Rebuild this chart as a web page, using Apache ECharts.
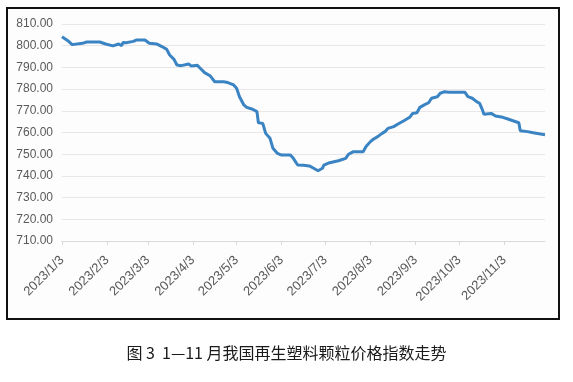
<!DOCTYPE html>
<html>
<head>
<meta charset="utf-8">
<script src="https://cdn.jsdelivr.net/npm/echarts@6/dist/echarts.min.js"></script>
<style>
html,body{margin:0;padding:0;background:#fff;}
#chart{width:573px;height:382px;}
</style>
</head>
<body>
<div id="chart"></div>
<script>
// Axis range (daily category axis)
const startDate = '2023/1/3';
const endDate = '2023/12/1';
const tickLabelDay = 3; // ticks / labels on the 3rd of each month (Jan..Nov)
const yTicks = [710, 720, 730, 740, 750, 760, 770, 780, 790, 800, 810];

// Values
const sampleDates = [
  '2023/1/3','2023/1/7','2023/1/10','2023/1/17','2023/1/20','2023/1/29','2023/2/2','2023/2/7','2023/2/11','2023/2/13',
  '2023/2/14','2023/2/16','2023/2/21','2023/2/23','2023/3/1','2023/3/4','2023/3/9','2023/3/13','2023/3/16','2023/3/18',
  '2023/3/21','2023/3/23','2023/3/26','2023/3/31','2023/4/2','2023/4/6','2023/4/8','2023/4/11','2023/4/15','2023/4/18',
  '2023/4/24','2023/4/27','2023/5/1','2023/5/3','2023/5/5','2023/5/8','2023/5/10','2023/5/14','2023/5/17','2023/5/18',
  '2023/5/21','2023/5/23','2023/5/26','2023/5/28','2023/5/31','2023/6/3','2023/6/9','2023/6/11','2023/6/14','2023/6/18',
  '2023/6/22','2023/6/25','2023/6/28','2023/7/1','2023/7/2','2023/7/6','2023/7/12','2023/7/17','2023/7/19','2023/7/22',
  '2023/7/29','2023/7/31','2023/8/3','2023/8/5','2023/8/8','2023/8/11','2023/8/13','2023/8/15','2023/8/19','2023/8/22',
  '2023/8/26','2023/8/30','2023/9/1','2023/9/4','2023/9/6','2023/9/9','2023/9/12','2023/9/14','2023/9/18','2023/9/20',
  '2023/9/23','2023/9/26','2023/10/7','2023/10/9','2023/10/12','2023/10/15','2023/10/17','2023/10/19','2023/10/20','2023/10/25',
  '2023/10/28','2023/11/2','2023/11/6','2023/11/9','2023/11/13','2023/11/14','2023/11/19','2023/11/23','2023/11/28','2023/12/1'
];
const sampleValues = [
  804.1, 802.3, 800.5, 801.1, 801.7, 801.7, 800.8, 799.9, 800.8, 800.0,
  801.5, 801.4, 802.0, 802.6, 802.6, 801.1, 800.8, 799.5, 798.3, 795.7,
  793.7, 791.1, 790.8, 791.6, 790.6, 791.0, 789.6, 787.6, 786.0, 783.4,
  783.4, 783.0, 781.9, 780.4, 776.5, 772.7, 771.6, 770.7, 769.6, 764.5,
  764.2, 759.6, 757.3, 752.7, 750.4, 749.6, 749.6, 748.1, 745.0, 744.9,
  744.6, 743.5, 742.4, 743.5, 745.0, 746.1, 747.0, 748.1, 750.0, 751.1,
  751.1, 753.5, 755.8, 756.9, 758.1, 759.6, 760.4, 761.9, 762.7, 763.9,
  765.4, 767.0, 768.8, 769.1, 771.6, 772.7, 773.7, 775.8, 776.5, 778.1,
  778.8, 778.5, 778.5, 776.5, 775.8, 774.2, 773.5, 770.4, 768.4, 768.8,
  767.6, 767.0, 766.1, 765.4, 764.5, 760.8, 760.4, 759.9, 759.3, 759.0
];

const caption = '图 3  1—11 月我国再生塑料颗粒价格指数走势';

// Build daily categories
function parseD(s){ const p = s.split('/').map(Number); return new Date(Date.UTC(p[0], p[1]-1, p[2])); }
function fmt(d){ return d.getUTCFullYear() + '/' + (d.getUTCMonth()+1) + '/' + d.getUTCDate(); }
const categories = [];
for (let d = parseD(startDate); d <= parseD(endDate); d = new Date(d.getTime() + 86400000)) categories.push(fmt(d));
const seriesData = categories.map(() => null);
sampleDates.forEach((s, i) => { const idx = categories.indexOf(s); if (idx >= 0) seriesData[idx] = sampleValues[i]; });

function showTick(index, value) {
  const p = String(value).split('/');
  return Number(p[2]) === tickLabelDay && Number(p[1]) <= 11;
}

const chart = echarts.init(document.getElementById('chart'), null, {renderer: 'canvas'});
chart.setOption({
  animation: false,
  backgroundColor: '#ffffff',
  title: {
    text: caption,
    left: 'center',
    top: 340,
    textStyle: {fontFamily: 'Noto Sans CJK SC', fontSize: 16, fontWeight: 'normal', color: '#1a1a1a'}
  },
  graphic: [{
    type: 'rect',
    shape: {x: 7, y: 8, width: 552, height: 311},
    style: {fill: '#fdfdfd', stroke: '#111', lineWidth: 2},
    z: -10, silent: true
  }],
  grid: {left: 62, right: 28, top: 24, bottom: 141, containLabel: false},
  xAxis: {
    type: 'category',
    data: categories,
    boundaryGap: false,
    axisLine: {lineStyle: {color: '#d9d9d9', width: 1}},
    axisTick: {show: true, interval: showTick, length: 4, lineStyle: {color: '#d9d9d9'}},
    axisLabel: {interval: showTick, rotate: 45, color: '#595959', fontSize: 13, fontFamily: 'Liberation Sans', margin: 17},
    splitLine: {show: false}
  },
  yAxis: {
    type: 'value',
    min: yTicks[0],
    max: yTicks[yTicks.length - 1],
    interval: 10,
    axisLine: {show: false},
    axisTick: {show: false},
    axisLabel: {color: '#595959', fontSize: 12, fontFamily: 'Liberation Sans', margin: 9, formatter: v => v.toFixed(2)},
    splitLine: {lineStyle: {color: '#ebe6e6', width: 1}}
  },
  series: [{
    type: 'line',
    data: seriesData,
    connectNulls: true,
    showSymbol: false,
    lineStyle: {color: '#3a84c4', width: 3},
    itemStyle: {color: '#3a84c4'}
  }]
});
</script>
</body>
</html>
